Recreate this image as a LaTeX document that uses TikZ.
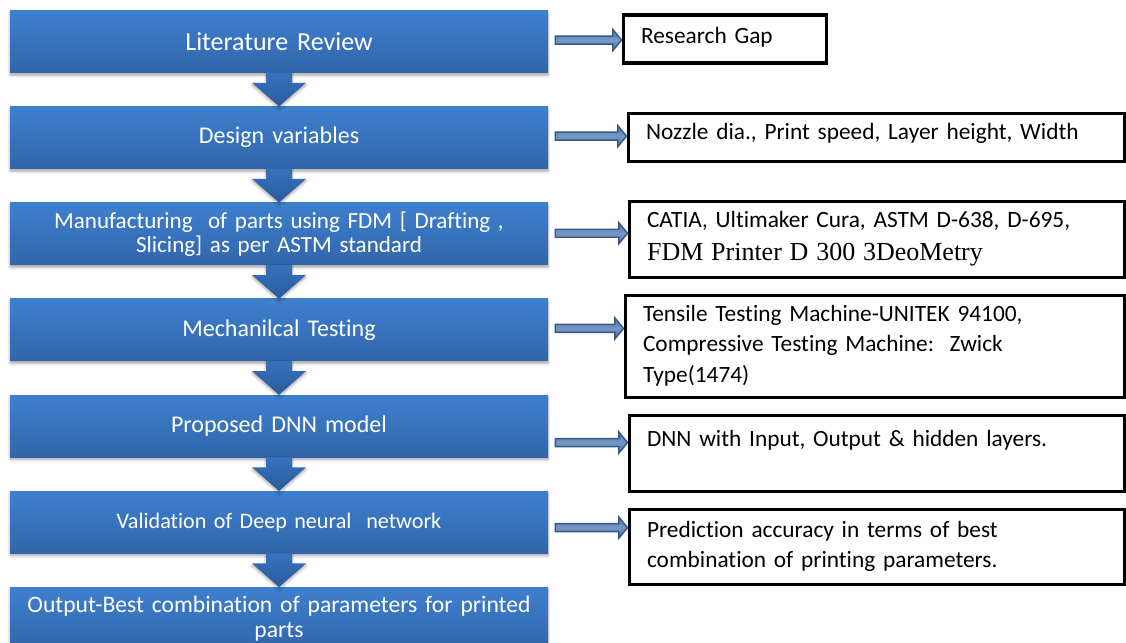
\documentclass[tikz,border=0pt]{standalone}
\usepackage{fontspec}
\setmainfont{Carlito}[Ligatures=NoCommon]
\newfontfamily\timesfont{Liberation Serif}
\usetikzlibrary{positioning,calc,shadows.blur}

\definecolor{boxtop}{RGB}{62,128,207}
\definecolor{boxbot}{RGB}{50,101,170}
\definecolor{arrtop}{RGB}{56,114,188}
\definecolor{arrbot}{RGB}{42,90,155}
\definecolor{sideline}{RGB}{58,88,132}
\definecolor{sidefill}{RGB}{78,116,170}
\definecolor{sidelight}{RGB}{118,152,198}

\tikzset{
  stepbox/.style   = {shape=rectangle, align=center, text=white,
                      minimum width=403.5pt, minimum height=46.5pt,
                      text width=395pt, inner sep=0pt,
                      top color=boxtop, bottom color=boxbot,
                      font=\fontsize{18}{19}\selectfont,
                      blur shadow={shadow xshift=0pt, shadow yshift=-2pt,
                                   shadow blur radius=2pt, shadow opacity=35}},
  infobox/.style   = {shape=rectangle, draw=black, line width=2.3pt,
                      align=left, inner xsep=13.5pt, inner ysep=0pt,
                      anchor=north west,
                      font=\fontsize{17.5}{22.8}\selectfont},
  downarrow/.style = {top color=arrtop, bottom color=arrbot,
                      blur shadow={shadow xshift=0pt, shadow yshift=-1.5pt,
                                   shadow blur radius=2pt, shadow opacity=35}},
  sidearrow/.style = {draw=sideline, line width=1.1pt,
                      top color=sidefill, bottom color=sidefill,
                      middle color=sidelight}
}

\begin{document}
\begin{tikzpicture}
[
x=0.75pt, y=-0.75pt,
node distance=25.2pt
]
\useasboundingbox (0,0) rectangle (1126,642);

% main steps
\node[stepbox, font=\fontsize{19.5}{20}\selectfont] (lit) at (279,41.5) {Literature Review};
\node[stepbox, below=of lit] (vars) {Design variables};
\node[stepbox, below=of vars, font=\fontsize{17.3}{18}\selectfont] (fdm)
  {Manufacturing~ of parts using FDM [ Drafting ,\\ Slicing] as per ASTM standard};
\node[stepbox, below=of fdm] (test) {Mechanilcal Testing};
\node[stepbox, below=of test] (dnn) {Proposed DNN model};
\node[stepbox, below=of dnn, font=\fontsize{16.6}{18}\selectfont] (valid) {Validation of Deep neural~ network};
\node[stepbox, below=of valid, font=\fontsize{17.7}{18.75}\selectfont] (best)
  {Output-Best combination of parameters for printed\\ parts};

% down arrows
\foreach \a/\b in {lit/vars, vars/fdm, fdm/test, test/dnn, dnn/valid, valid/best}
  \path[downarrow] ([xshift=-9.75pt]\a.south) -- ([xshift=-9.75pt,yshift=-7.5pt]\a.south)
    -- ([xshift=-20.25pt,yshift=-7.5pt]\a.south) -- (\b.north)
    -- ([xshift=20.25pt,yshift=-7.5pt]\a.south) -- ([xshift=9.75pt,yshift=-7.5pt]\a.south)
    -- ([xshift=9.75pt]\a.south) -- cycle;

% side notes
\node[infobox, text width=125.25pt, minimum height=36pt, text depth=6pt] (gap) at (621.5,13.5) {Research Gap};
\node[infobox, text width=345pt, minimum height=36pt, text depth=8pt] (param) at (626.5,111.5)
  {Nozzle dia., Print speed, Layer height, Width};
\node[infobox, text width=344.25pt, minimum height=57pt] (tools) at (627.5,199.5)
  {CATIA, Ultimaker Cura, ASTM D-638, D-695,\\[2pt] {\timesfont\fontsize{19.5}{22}\selectfont FDM Printer D 300 3DeoMetry}};
\node[infobox, text width=347.25pt, minimum height=76.5pt, text depth=49pt] (machine) at (623.5,293.5)
  {Tensile Testing Machine-UNITEK 94100,\\ Compressive Testing Machine:\hspace{3pt} Zwick\\ Type(1474)};
\node[infobox, text width=344.25pt, minimum height=57pt, text depth=22pt] (layers) at (627.5,413.5)
  {DNN with Input, Output \& hidden layers.};
\node[infobox, text width=344.25pt, minimum height=56.25pt] (accuracy) at (627.5,507.5)
  {Prediction accuracy in terms of best\\ combination of printing parameters.};

% side arrows
\foreach \a/\b/\dy in {lit/gap/1.1, vars/param/1.1, fdm/tools/0.4, test/machine/1.1, dnn/layers/-12.4, valid/accuracy/-4.1}
  \path[sidearrow] let \p1 = ([xshift=5.25pt, yshift=\dy pt]\a.east), \p2 = (\b.west) in
    (\x1,\y1+3pt) -- (\x2-6.5pt,\y1+3pt) -- (\x2-6.5pt,\y1+7.9pt) -- (\x2,\y1)
    -- (\x2-6.5pt,\y1-7.9pt) -- (\x2-6.5pt,\y1-3pt) -- (\x1,\y1-3pt) -- cycle;
\end{tikzpicture}
\end{document}
